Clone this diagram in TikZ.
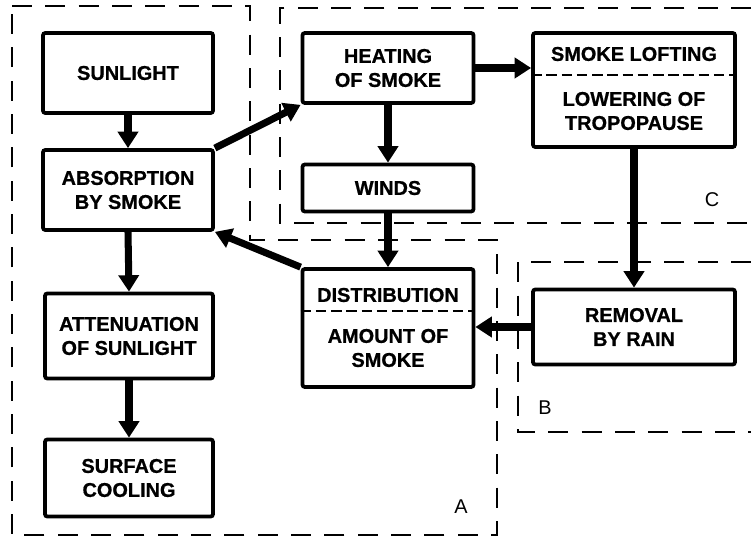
\documentclass[tikz,border=0pt]{standalone}
\usepackage{fontspec}
\setmainfont{Liberation Sans}
\newfontfamily\heavyfont{Liberation Sans}[BoldFeatures={FakeBold=0.8}]
\usetikzlibrary{arrows.meta}

\tikzset{
  box/.style={draw, line width=3.2pt, rounded corners=2pt, align=center,
    inner sep=0pt, minimum width=5.1cm, minimum height=2.4cm,
    font=\heavyfont\bfseries\fontsize{17}{20.5}\selectfont},
  boxtext/.style={align=center, inner sep=0pt,
    font=\heavyfont\bfseries\fontsize{17}{20.5}\selectfont},
  arr/.style={line width=6pt, -{Triangle[length=14pt,width=17pt]}},
  region/.style={line width=2.2pt, dash pattern=on 0.6cm off 0.4cm},
  divider/.style={line width=2pt, dash pattern=on 9pt off 4pt},
  tag/.style={inner sep=0pt, font=\fontsize{17}{20}\selectfont}
}

\begin{document}
\begin{tikzpicture}[x=0.03cm,y=-0.03cm]

\useasboundingbox (0,0) rectangle (751,544);

% Regions
\draw[region] (12,6) -- (250,6) -- (250,240) -- (497,240) -- (497,535) -- (12,535) -- cycle;
\draw[region] (751,8) -- (280,8) -- (280,223) -- (751,223);
\draw[region] (751,262) -- (518,262) -- (518,432) -- (751,432);

\node[tag] (labA) at (461,507) {A};
\node[tag] (labB) at (545,408) {B};
\node[tag] (labC) at (712,200) {C};

% Left column
\node[box] (sun) at (128,73) {SUNLIGHT};
\node[box] (absorb) at (128,190) {ABSORPTION\\BY SMOKE};
\node[box, minimum width=5.04cm, minimum height=2.55cm] (atten) at (129,336) {ATTENUATION\\OF SUNLIGHT};
\node[box, minimum width=5.04cm, minimum height=2.31cm] (cool) at (129,478) {SURFACE\\COOLING};

% Middle column
\node[box, minimum width=5.13cm, minimum height=2.1cm] (heat) at (388,68) {HEATING\\OF SMOKE};
\node[box, minimum width=5.13cm, minimum height=1.41cm] (winds) at (388,188) {WINDS};
\node[box, minimum width=5.13cm, minimum height=3.54cm] (distr) at (388,328) {};
\node[boxtext] (distrT) at (388,295) {DISTRIBUTION};
\node[boxtext] (distrB) at (388,348) {AMOUNT OF\\SMOKE};
\coordinate (distrcut) at (388,311);
\draw[divider] (distrcut -| distr.west) -- (distrcut -| distr.east);

% Right column
\node[box, minimum width=6.06cm, minimum height=3.42cm] (loft) at (634,90) {};
\node[boxtext] (loftT) at (634,54) {SMOKE LOFTING};
\node[boxtext] (loftB) at (634,111) {LOWERING OF\\TROPOPAUSE};
\coordinate (loftcut) at (634,75);
\draw[divider] (loftcut -| loft.west) -- (loftcut -| loft.east);
\node[box, minimum width=6.06cm, minimum height=2.25cm] (rain) at (634,327) {REMOVAL\\BY RAIN};

% Arrows
\foreach \a/\b in {sun/absorb, absorb/atten, atten/cool, heat/winds, winds/distr, loft/rain}
{
\draw[arr] (\a.south) -- (\b.north);
}
\draw[arr] (absorb.north east) -- (heat.south west);
\draw[arr] (heat.east) -- (heat.east -| loft.west);
\draw[arr] (distr.north west) -- (absorb.south east);
\draw[arr] (rain.west) -- (rain.west -| distr.east);

\end{tikzpicture}
\end{document}
